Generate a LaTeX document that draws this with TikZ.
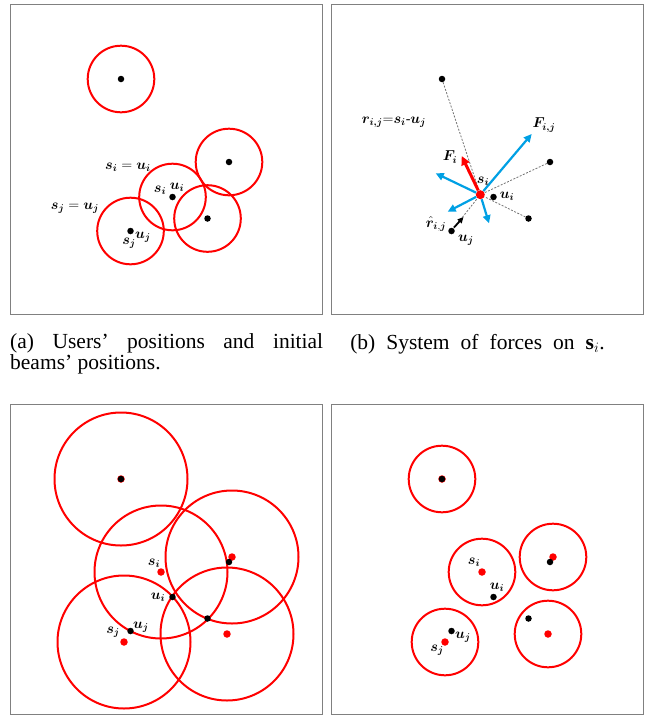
\documentclass[tikz,border=0pt]{standalone}
\usepackage{amsmath}
\usepackage{bm}
\usepackage{fontspec}
\setmainfont{Liberation Serif}
\usetikzlibrary{arrows.meta}

\definecolor{forceblue}{RGB}{0,160,228}
% users and final beam centres, in the local frame of one panel
\newcommand{\userlist}{u1/121/79, u2/229/162, ui/172.5/197, u4/207.5/218.5, uj/130.5/231}
\newcommand{\beamlist}{s1/121/79, s2/232/157, si/161/172, s4/227/234, sj/124/242}
\newcommand{\bsub}[2]{\bm{#1}_{\bm{#2}}}

\begin{document}
\begin{tikzpicture}[x=1pt, y=-1pt,
    panel/.style={draw=black!50, line width=1.8pt},
    user/.style={circle, fill=black, inner sep=0pt, minimum size=6.5pt},
    beam/.style={circle, fill=red, inner sep=0pt, minimum size=7.5pt},
    cover/.style={draw=red, line width=2pt},
    link/.style={draw=black!55, dash pattern=on 2pt off 1.5pt, line width=0.8pt},
    force/.style={draw=forceblue, line width=2.2pt, -{Triangle[length=8pt,width=7.5pt]}},
    lbl/.style={inner sep=0pt, font=\fontsize{14}{15}\selectfont},
    capt/.style={inner sep=0pt, font=\fontsize{21.5}{21.5}\selectfont}]
    \useasboundingbox (0,0) rectangle (651,715);

    % (a) users and initial beams
    \draw[panel] (10.5,4.5) rectangle (322.5,314.5);
    \foreach \nm/\x/\y in \userlist
        \draw[cover] (\x,\y) circle[radius=33.3];
    \foreach \nm/\x/\y in \userlist
        \node[user] (a-\nm) at (\x,\y) {};
    \node[lbl] (a-eqi) at (128,167) {$\bsub{s}{i} = \bsub{u}{i}$};
    \node[lbl] (a-eqj) at (75,208) {$\bsub{s}{j} = \bsub{u}{j}$};
    \node[lbl] (a-si) at (160,190) {$\bsub{s}{i}$};
    \node[lbl] (a-ui) at (177,187) {$\bsub{u}{i}$};
    \node[lbl] (a-uj) at (143,237) {$\bsub{u}{j}$};
    \node[lbl] (a-sj) at (129,243) {$\bsub{s}{j}$};

    % (b) forces on s_i
    \begin{scope}[shift={(321,0)}]
        \draw[panel] (10.5,4.5) rectangle (322.5,314.5);
        \foreach \nm/\x/\y in \userlist
            \node[user] (b-\nm) at (\x,\y) {};
        \node[beam, minimum size=9pt] (b-si) at (159.3,194.7) {};
        \foreach \nm in {u1,u2,u4,uj}
            \draw[link] (b-\nm) -- (b-si);
        \coordinate (b-f1) at (210.7,134);
        \coordinate (b-f2) at (114.7,173.3);
        \coordinate (b-f3) at (126.7,211.7);
        \coordinate (b-f4) at (168,223.3);
        \coordinate (b-fi) at (140.7,156);
        \coordinate (b-rs) at (133,227.5);
        \coordinate (b-rt) at (142.5,217);
        \foreach \f in {f1,f2,f3,f4}
            \draw[force] (b-si) -- (b-\f);
        \draw[red, line width=3pt, -{Triangle[length=9pt,width=8.5pt]}] (b-si) -- (b-fi);
        \draw[black, line width=1.8pt, -{Triangle[length=6pt,width=5.5pt]}] (b-rs) -- (b-rt);
        \node[lbl] (b-req) at (73,122) {$\bsub{r}{i,j}{=}\bsub{s}{i}\text{-}\bsub{u}{j}$};
        \node[lbl] (b-Fij) at (223,125) {$\bsub{F}{i,j}$};
        \node[lbl] (b-Fi) at (129,157) {$\bsub{F}{i}$};
        \node[lbl] (b-lsi) at (162,181) {$\bsub{s}{i}$};
        \node[lbl] (b-lui) at (186,196) {$\bsub{u}{i}$};
        \node[lbl] (b-lr) at (115,224) {$\hat{\bm{r}}_{\bm{i},\bm{j}}$};
        \node[lbl] (b-luj) at (145,240) {$\bsub{u}{j}$};
    \end{scope}

    % (c) beams moved, large radius
    \begin{scope}[shift={(0,400)}]
        \draw[panel] (10.5,4.5) rectangle (322.5,314.5);
        \foreach \nm/\x/\y in \beamlist
            \draw[cover] (\x,\y) circle[radius=66.5];
        \foreach \nm/\x/\y in \beamlist
            \node[beam] (c-\nm) at (\x,\y) {};
        \foreach \nm/\x/\y in \userlist
            \node[user] (c-\nm) at (\x,\y) {};
        \node[lbl] (c-lsi) at (154,163) {$\bsub{s}{i}$};
        \node[lbl] (c-lui) at (158,197) {$\bsub{u}{i}$};
        \node[lbl] (c-luj) at (141,227) {$\bsub{u}{j}$};
        \node[lbl] (c-lsj) at (113,232) {$\bsub{s}{j}$};
    \end{scope}

    % (d) beams moved, final radius
    \begin{scope}[shift={(321,400)}]
        \draw[panel] (10.5,4.5) rectangle (322.5,314.5);
        \foreach \nm/\x/\y in \beamlist
            \draw[cover] (\x,\y) circle[radius=33.3];
        \foreach \nm/\x/\y in \beamlist
            \node[beam] (d-\nm) at (\x,\y) {};
        \foreach \nm/\x/\y in \userlist
            \node[user] (d-\nm) at (\x,\y) {};
        \node[lbl] (d-lsi) at (153,162) {$\bsub{s}{i}$};
        \node[lbl] (d-lui) at (176,187) {$\bsub{u}{i}$};
        \node[lbl] (d-luj) at (142,237) {$\bsub{u}{j}$};
        \node[lbl] (d-lsj) at (116,250) {$\bsub{s}{j}$};
    \end{scope}

    % captions
    \node[capt, text width=313pt, align=justify, anchor=north west] (cap-a) at (10,333)
        {(a) Users' positions and initial\linebreak beams' positions.};
    \node[capt, anchor=base] (cap-b) at (477.5,349)
        {\spaceskip=11pt (b) System of forces on $\mathbf{s}_i$.};
\end{tikzpicture}
\end{document}
